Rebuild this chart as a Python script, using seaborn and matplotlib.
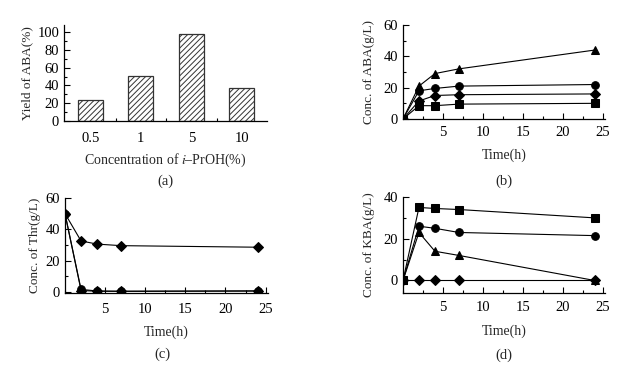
import numpy as np
import pandas as pd
import matplotlib
matplotlib.use("Agg")
import matplotlib.pyplot as plt
import seaborn as sns
from matplotlib.ticker import MultipleLocator

# ---- data ----
conc_labels = ["0.5", "1", "5", "10"]
yield_aba = [24, 51, 98, 37]

times = [0, 2, 4, 7, 24]
aba_tri = [0, 21, 29, 32, 44]
aba_cir = [0, 18, 19.5, 21, 22]
aba_dia = [0, 11.5, 15, 15.5, 16]
aba_sq = [0, 8.5, 8.5, 9.5, 10]

thr_dia = [50, 32.5, 30.5, 29.5, 28.5]
thr_cir = [50, 1.5, 0.5, 0.3, 0.5]
thr_dia2 = [50, 0.8, 0.3, 0.3, 0.5]

kba_sq = [0, 35, 34.5, 34, 30]
kba_cir = [0, 26, 25, 23, 21.5]
kba_tri = [0, 23, 14, 12, 0]
kba_dia = [0, 0, 0, 0, 0]

sns.set_theme(style="ticks")
plt.rcParams["font.family"] = ["Liberation Serif", "DejaVu Serif"]
plt.rcParams["mathtext.fontset"] = "stix"
plt.rcParams["hatch.linewidth"] = 0.7

W, H = 625, 370
fig = plt.figure(figsize=(W / 100, H / 100), dpi=100)


def add_ax(left, right, top, bottom):
    return fig.add_axes([left / W, 1 - bottom / H, (right - left) / W, (bottom - top) / H])


def style(ax):
    sns.despine(ax=ax)
    for s in ["left", "bottom"]:
        ax.spines[s].set_linewidth(0.9)
        ax.spines[s].set_color("black")
    ax.tick_params(which="both", direction="in", colors="black", labelsize=10.5, width=0.8)
    ax.tick_params(which="major", length=4)
    ax.tick_params(which="minor", length=2.5)
    ax.tick_params(axis="x", pad=5)
    ax.set_facecolor("white")


fs = 10.5
yfs = 9.5
xfs = 10

# (a)
ax = add_ax(64, 267, 25, 121)
df = pd.DataFrame({"c": conc_labels, "y": yield_aba})
sns.barplot(data=df, x="c", y="y", ax=ax, color="white", edgecolor="black",
            linewidth=0.9, width=0.5)
for p in ax.patches:
    p.set_hatch("//////")
    p.set_facecolor("white")
    p.set_edgecolor("#333333")
ax.set_xlim(-0.52, 3.5)
ax.set_ylim(0, 108)
ax.yaxis.set_major_locator(MultipleLocator(20))
ax.yaxis.set_minor_locator(MultipleLocator(10))
ax.set_xticks([0.5, 1.5, 2.5], minor=True)
style(ax)
ax.tick_params(axis="x", which="major", length=0, pad=8)
ax.set_xlabel(r"Concentration of $\it{i}$–PrOH(%)", fontsize=xfs, labelpad=5)
ax.set_ylabel("Yield of ABA(%)", fontsize=yfs, labelpad=3)
fig.text(165 / W, 1 - 181 / H, "(a)", ha="center", va="center", fontsize=fs)


def series_plot(ax, ys_markers):
    for ys, m in ys_markers:
        sns.lineplot(x=times, y=ys, ax=ax, color="black", marker=m, markersize=5.5,
                     markeredgecolor="black", markerfacecolor="black", linewidth=0.8,
                     estimator=None, legend=False)
    ax.set_xlim(0, 25.3)
    ax.xaxis.set_major_locator(MultipleLocator(5))
    ax.xaxis.set_minor_locator(MultipleLocator(2.5))
    ax.set_xticks([5, 10, 15, 20, 25])
    style(ax)


# (b)
ax = add_ax(403, 605, 25, 119)
series_plot(ax, [(aba_tri, "^"), (aba_cir, "o"), (aba_dia, "D"), (aba_sq, "s")])
ax.set_ylim(0, 60)
ax.yaxis.set_major_locator(MultipleLocator(20))
ax.yaxis.set_minor_locator(MultipleLocator(10))
ax.set_xlabel("Time(h)", fontsize=xfs, labelpad=7)
ax.set_ylabel("Conc. of ABA(g/L)", fontsize=yfs, labelpad=6)
fig.text(504 / W, 1 - 181 / H, "(b)", ha="center", va="center", fontsize=fs)

# (c)
ax = add_ax(65, 268, 198, 293)
series_plot(ax, [(thr_dia, "D"), (thr_cir, "o"), (thr_dia2, "D")])
ax.set_ylim(-0.8, 60)
ax.yaxis.set_major_locator(MultipleLocator(20))
ax.yaxis.set_minor_locator(MultipleLocator(10))
ax.tick_params(axis="x", pad=7)
ax.set_xlabel("Time(h)", fontsize=xfs, labelpad=7)
ax.set_ylabel("Conc. of Thr(g/L)", fontsize=yfs, labelpad=3)
fig.text(162 / W, 1 - 354 / H, "(c)", ha="center", va="center", fontsize=fs)

# (d)
ax = add_ax(403, 605, 197, 293)
series_plot(ax, [(kba_sq, "s"), (kba_cir, "o"), (kba_tri, "^"), (kba_dia, "D")])
ax.set_ylim(-6, 40)
ax.yaxis.set_major_locator(MultipleLocator(20))
ax.yaxis.set_minor_locator(MultipleLocator(10))
ax.tick_params(axis="x", pad=6)
ax.set_xlabel("Time(h)", fontsize=xfs, labelpad=7)
ax.set_ylabel("Conc. of KBA(g/L)", fontsize=yfs, labelpad=6)
fig.text(504 / W, 1 - 355 / H, "(d)", ha="center", va="center", fontsize=fs)

fig.savefig("out.png", dpi=100, facecolor="white")
